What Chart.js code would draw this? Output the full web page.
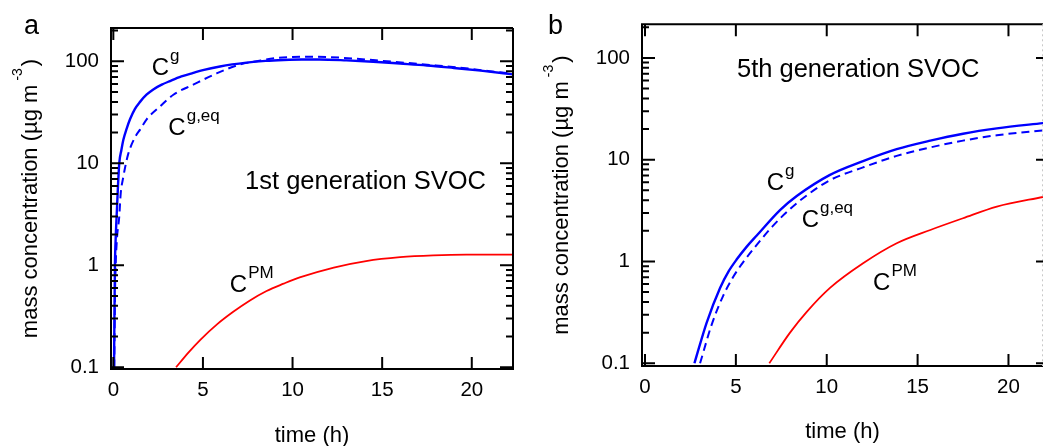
<!DOCTYPE html>
<html lang="en">
<head>
    <meta charset="UTF-8">
    <title>SVOC mass concentration</title>
    <script src="https://cdn.jsdelivr.net/npm/chart.js"></script>
    <style>
        body {
            margin: 0;
            background: #fff;
            overflow: hidden;
        }
        .panel {
            position: absolute;
            top: 0;
            height: 446px;
        }
        #panelA { left: 0; width: 522px; }
        #panelB { left: 531px; width: 513px; }
    </style>
</head>
<body>
    <div class="panel" id="panelA"><canvas id="chartA"></canvas></div>
    <div class="panel" id="panelB"><canvas id="chartB"></canvas></div>

    <script>
// panel a: 1st generation SVOC (time in h, concentration in ug/m3)
const aGasTime = [0.04, 0.06, 0.09, 0.14, 0.2, 0.26, 0.33, 0.45, 0.56, 0.75, 0.93, 1.2, 1.49, 1.85, 2.23, 2.7, 3.16, 3.8, 4.46, 5.0, 5.95, 7.43, 8.5, 9.5, 10.5, 11.5, 13, 14.5, 16, 17.5, 19, 20.5, 22.4];
const aGas     = [0.1, 0.3, 1.0, 2.0, 3.5, 6, 10, 13.5, 17, 22, 27, 34, 40, 47, 53, 59, 64, 71, 77, 82, 89, 97, 101, 103, 104, 104, 102, 99, 95, 91, 86, 81, 74];
const aEqTime  = [0.05, 0.1, 0.13, 0.2, 0.33, 0.41, 0.56, 0.65, 0.84, 1.21, 1.5, 1.86, 2.6, 3.35, 4.46, 5.76, 7.06, 8, 9, 10, 11, 12, 13.5, 15, 16.5, 18, 19.5, 21, 22.4];
const aEq      = [0.1, 0.6, 1.0, 1.8, 3, 5, 7.4, 9, 12.5, 18, 21.5, 27, 36, 47, 59, 76, 93, 100, 107, 110, 111, 110, 106, 101, 96, 91, 86, 80, 75];
const aPMTime  = [3.5, 4.2, 4.84, 5.8, 6.69, 7.6, 8.55, 9.5, 10.4, 12.3, 14.1, 16, 17.85, 19.7, 22.4];
const aPM      = [0.1, 0.14, 0.185, 0.265, 0.35, 0.45, 0.56, 0.66, 0.76, 0.95, 1.1, 1.2, 1.25, 1.27, 1.27];

// panel b: 5th generation SVOC
const bGasTime = [2.72, 3.39, 4.13, 4.6, 5.05, 5.6, 6.15, 7.43, 8.35, 10.18, 12, 13.85, 15.7, 17.5, 19.36, 22];
const bGas     = [0.1, 0.25, 0.55, 0.8, 1.05, 1.4, 1.8, 3.2, 4.4, 7.1, 9.7, 12.7, 15.4, 18, 20.3, 23];
const bEqTime  = [3.03, 3.67, 4.3, 4.8, 5.3, 6, 7, 8, 9, 10.18, 12, 13.85, 15.7, 17.5, 19.36, 22];
const bEq      = [0.1, 0.24, 0.46, 0.68, 0.93, 1.35, 2.2, 3.3, 4.6, 6.3, 8.4, 10.9, 13.2, 15.4, 17.4, 19.5];
const bPMTime  = [6.84, 7.98, 8.9, 10.18, 12, 13.85, 15.7, 17.5, 19.36, 22];
const bPM      = [0.1, 0.2, 0.32, 0.55, 0.96, 1.51, 2.04, 2.66, 3.46, 4.34];

// axis ticks
const timeTicks = [0, 5, 10, 15, 20];
const concTicks = [0.1, 1, 10, 100];

const FONT = "'Liberation Sans', Arial, Helvetica, sans-serif";
const BLUE = '#0000ff';
const RED = '#ff0000';

const pairs = (xs, ys) => xs.map((x, i) => ({ x: x, y: ys[i] }));

// frame, inward ticks, y title, panel letter and curve labels
const framePlugin = {
    id: 'frame',
    afterDatasetsDraw(chart, args, opts) {
        const { ctx, chartArea: { left, right, top, bottom }, scales: { x, y } } = chart;
        ctx.save();
        ctx.strokeStyle = '#000';
        ctx.lineWidth = 2;

        // frame
        ctx.beginPath();
        ctx.moveTo(right, top);
        ctx.lineTo(left, top);
        ctx.lineTo(left, bottom);
        ctx.lineTo(right, bottom);
        if (!opts.dottedRight) ctx.lineTo(right, top);
        ctx.stroke();
        if (opts.dottedRight) {
            ctx.save();
            ctx.strokeStyle = '#c8c8c8';
            ctx.lineWidth = 1;
            ctx.setLineDash([2, 3]);
            ctx.beginPath();
            ctx.moveTo(right - 0.5, top);
            ctx.lineTo(right - 0.5, bottom);
            ctx.stroke();
            ctx.restore();
        }

        // x ticks top and bottom
        ctx.beginPath();
        timeTicks.forEach(v => {
            const px = x.getPixelForValue(v);
            ctx.moveTo(px, bottom); ctx.lineTo(px, bottom - 12);
            ctx.moveTo(px, top); ctx.lineTo(px, top + 12);
        });
        // y ticks, decades and 2..9 minors
        concTicks.forEach(d => {
            for (let k = 1; k <= 9; k++) {
                const v = d * k;
                if (v < y.min || v > y.max) continue;
                const py = y.getPixelForValue(v);
                const len = k === 1 ? 13 : 7;
                ctx.moveTo(left, py); ctx.lineTo(left + len, py);
                if (k === 1 || opts.rightMinor) {
                    const rl = opts.rightMinor ? len : 7;
                    ctx.moveTo(right, py); ctx.lineTo(right - rl, py);
                }
            }
        });
        ctx.stroke();

        ctx.fillStyle = '#000';
        ctx.textBaseline = 'alphabetic';
        ctx.textAlign = 'left';

        // y axis title with superscript
        const main = 'mass concentration (\u00b5g m';
        ctx.font = '22px ' + FONT;
        const w1 = ctx.measureText(main).width;
        const w3 = ctx.measureText(')').width;
        ctx.font = '14px ' + FONT;
        const w2 = ctx.measureText('-3').width;
        const total = w1 + 4 + w2 + 2 + w3;
        ctx.save();
        ctx.translate(left - 74, (top + bottom) / 2 + total / 2);
        ctx.rotate(-Math.PI / 2);
        ctx.font = '22px ' + FONT;
        ctx.fillText(main, 0, 0);
        ctx.fillText(')', w1 + 4 + w2 + 2, 0);
        ctx.font = '14px ' + FONT;
        ctx.fillText('-3', w1 + 4, -15);
        ctx.restore();

        // panel letter
        ctx.font = '27px ' + FONT;
        ctx.fillText(opts.letter, opts.letterX, 34);

        // generation caption
        const cap = opts.caption;
        ctx.font = '25.5px ' + FONT;
        ctx.fillText(cap.text, x.getPixelForValue(cap.x), y.getPixelForValue(cap.y));

        // curve labels, C with superscript
        opts.labels.forEach(l => {
            const px = x.getPixelForValue(l.x);
            const py = y.getPixelForValue(l.y);
            ctx.font = '24px ' + FONT;
            ctx.fillText('C', px, py);
            const cw = ctx.measureText('C').width;
            ctx.font = '17px ' + FONT;
            ctx.fillText(l.sup, px + cw + 1, py - 14);
        });
        ctx.restore();
    }
};

const makeChart = (canvasId, series, cfg) => {
    return new Chart(document.getElementById(canvasId), {
        type: 'line',
        data: {
            datasets: [
                { label: 'C g', data: pairs(series[0], series[1]), borderColor: BLUE, borderWidth: 2.4 },
                { label: 'C g,eq', data: pairs(series[2], series[3]), borderColor: BLUE, borderWidth: 2, borderDash: [8, 5] },
                { label: 'C PM', data: pairs(series[4], series[5]), borderColor: RED, borderWidth: 1.8 }
            ]
        },
        options: {
            responsive: true,
            maintainAspectRatio: false,
            animation: false,
            layout: { padding: { left: 0, right: cfg.padRight, top: cfg.padTop, bottom: 0 } },
            elements: {
                point: { radius: 0 },
                line: { cubicInterpolationMode: 'monotone', fill: false }
            },
            plugins: {
                legend: { display: false },
                tooltip: { enabled: false },
                frame: {
                    letter: cfg.letter,
                    letterX: cfg.letterX,
                    rightMinor: cfg.rightMinor,
                    dottedRight: cfg.dottedRight,
                    caption: cfg.caption,
                    labels: cfg.labels
                }
            },
            scales: {
                x: {
                    type: 'linear',
                    min: cfg.xMin,
                    max: cfg.xMax,
                    grid: { display: false, drawTicks: false },
                    border: { display: false },
                    afterBuildTicks: s => { s.ticks = timeTicks.map(v => ({ value: v })); },
                    afterFit: s => { s.height = cfg.xHeight; },
                    ticks: { color: '#000', padding: 9, font: { family: FONT, size: 20.5 }, maxRotation: 0 },
                    title: {
                        display: true,
                        text: 'time (h)',
                        color: '#000',
                        font: { family: FONT, size: 22, lineHeight: 1 },
                        padding: { top: 0, bottom: cfg.titlePad }
                    }
                },
                y: {
                    type: 'logarithmic',
                    min: cfg.yMin,
                    max: cfg.yMax,
                    grid: { display: false, drawTicks: false },
                    border: { display: false },
                    afterBuildTicks: s => { s.ticks = concTicks.map(v => ({ value: v })); },
                    afterFit: s => { s.width = 111; },
                    ticks: {
                        color: '#000',
                        padding: 12,
                        font: { family: FONT, size: 20.5 },
                        callback: v => String(v)
                    }
                }
            }
        },
        plugins: [framePlugin]
    });
};

makeChart('chartA', [aGasTime, aGas, aEqTime, aEq, aPMTime, aPM], {
    xMin: -0.13, xMax: 22.3, yMin: 0.0962, yMax: 212,
    padRight: 9, padTop: 28, xHeight: 77, titlePad: -1,
    letter: 'a', letterX: 24, rightMinor: true, dottedRight: false,
    caption: { text: '1st generation SVOC', x: 7.35, y: 5.56 },
    labels: [
        { sup: 'g', x: 2.14, y: 73.5 },
        { sup: 'g,eq', x: 3.07, y: 18.9 },
        { sup: 'PM', x: 6.5, y: 0.543 }
    ]
});

makeChart('chartB', [bGasTime, bGas, bEqTime, bEq, bPMTime, bPM], {
    xMin: -0.165, xMax: 21.9, yMin: 0.094, yMax: 214,
    padRight: 1, padTop: 24, xHeight: 80, titlePad: 3,
    letter: 'b', letterX: 17, rightMinor: false, dottedRight: true,
    caption: { text: '5th generation SVOC', x: 5.06, y: 64.3 },
    labels: [
        { sup: 'g', x: 6.7, y: 5.0 },
        { sup: 'g,eq', x: 8.62, y: 2.19 },
        { sup: 'PM', x: 12.55, y: 0.525 }
    ]
});
    </script>
</body>
</html>
